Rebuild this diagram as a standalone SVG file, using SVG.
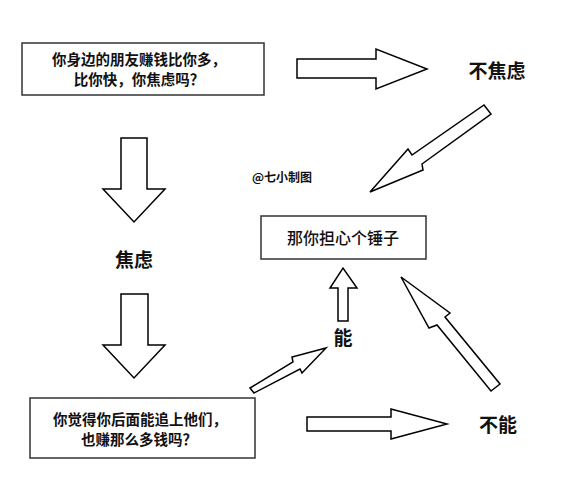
<svg xmlns="http://www.w3.org/2000/svg" width="570" height="491" viewBox="0 0 570 491">
<style>
.box{fill:#fff;stroke:#333;stroke-width:1.5}
.arr{fill:#fff;stroke:#000;stroke-width:1.5;stroke-linejoin:miter}
text{font-family:"Noto Sans CJK SC","Noto Sans",sans-serif;fill:#111;text-anchor:middle}
.b{font-weight:bold}
.t15{font-size:14.5px}
.t19{font-size:19px}
</style>
<rect width="570" height="491" fill="#fff"/>
<g id="connectors">
<polygon class="arr" points="297,59 376,59 376,49 427,69 376,89 376,78 297,78"/>
<polygon class="arr" points="121,138 147,138 147,189 165,189 134,222 103,189 121,189"/>
<polygon class="arr" points="121,294 148,294 148,345 165,345 134,378 103,345 121,345"/>
<polygon class="arr" points="484,105 491,114 422,164 423,170 370,192 408,149 412,155"/>
<polygon class="arr" points="250,388 254,393 300,369 302,373 326,348 292,357 293,362"/>
<polygon class="arr" points="338,321 348,321 348,288 357,288 343,268 330,288 338,288"/>
<polygon class="arr" points="307,417 391,417 391,409 447,424 391,439 391,431 307,431"/>
<polygon class="arr" points="500,384 491,391 437,325 429,328 401,277 450,313 445,317"/>
</g>
<g id="n1">
<rect class="box" x="22" y="43" width="242" height="52"/>
<text class="b t15" x="139" y="65">你身边的朋友赚钱比你多，</text>
<text class="b t15" x="139" y="85">比你快，你焦虑吗？</text>
</g>
<g id="n2"><text class="b t19" x="497" y="78">不焦虑</text></g>
<g id="n3"><text class="b t19" x="134" y="267">焦虑</text></g>
<g id="n4">
<rect class="box" x="30" y="398" width="225" height="60"/>
<text class="b t15" x="140" y="425">你觉得你后面能追上他们，</text>
<text class="b t15" x="139" y="445">也赚那么多钱吗？</text>
</g>
<g id="n5">
<rect class="box" x="261" y="216" width="165" height="43"/>
<text x="343" y="244" style="font-size:16px;font-weight:500">那你担心个锤子</text>
</g>
<g id="n6"><text class="b t19" x="343" y="345">能</text></g>
<g id="n7"><text class="b t19" x="498" y="432">不能</text></g>
<g id="watermark"><text class="b" x="282" y="182" style="font-size:12px">@七小制图</text></g>
</svg>
